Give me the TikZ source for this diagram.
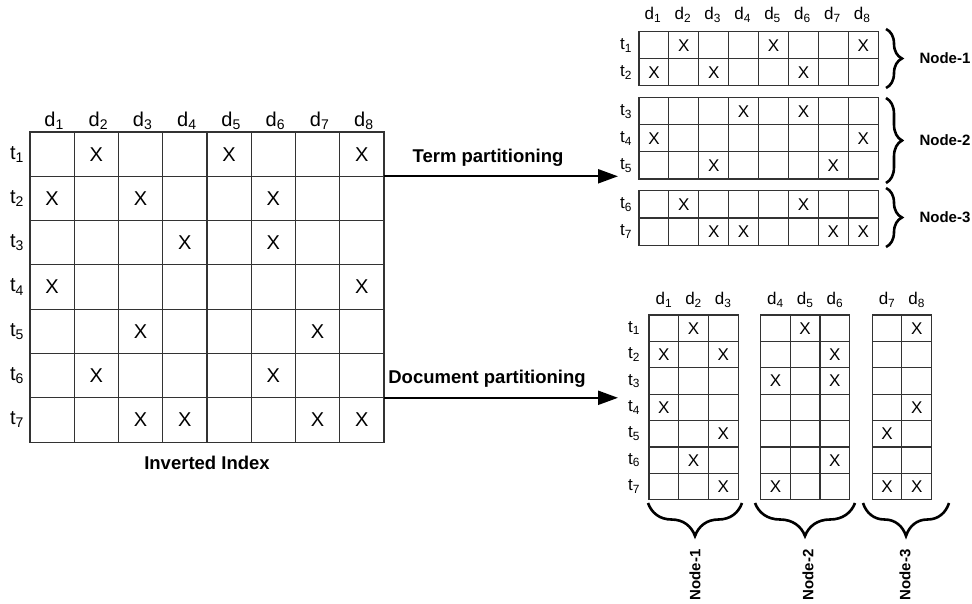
\documentclass[tikz,border=0pt]{standalone}
\usepackage{fontspec}
\setmainfont{Liberation Sans}
\usetikzlibrary{arrows.meta,decorations.pathreplacing}

% column/row pairs that hold a posting
\def\hits{2/1,5/1,8/1,1/2,3/2,6/2,4/3,6/3,1/4,8/4,3/5,7/5,2/6,6/6,3/7,4/7,7/7,8/7}

\tikzset{
  cell/.style={draw=black!80, line width=1.1pt},
  flow/.style={line width=2.2pt, -{Triangle[length=20pt,width=14pt]}},
  curly/.style={line width=2.6pt, decorate, decoration={brace,amplitude=#1}},
  bigtext/.style={font=\fontsize{20}{22}\selectfont},
  smalltext/.style={font=\fontsize{17}{19}\selectfont},
  title/.style={font=\bfseries\fontsize{18.5}{20}\selectfont},
  part/.style={font=\bfseries\fontsize{15}{17}\selectfont},
}

\begin{document}
\begin{tikzpicture}[x=1pt,y=-1pt]
  \useasboundingbox (0,0) rectangle (972,604);

  % inverted index
  \foreach \c in {1,...,8} \foreach \r in {1,...,7}
    \draw[cell] ({30+(\c-1)*44.25},{132+(\r-1)*44.3}) rectangle ++(44.25,44.3);
  \foreach \c in {1,...,8}
    \node[bigtext] (md-\c) at ({32+(\c-0.5)*44.25},121) {d\textsubscript{\c}};
  \foreach \r in {1,...,7}
    \node[bigtext] (mt-\r) at (17,{132+(\r-0.5)*44.3}) {t\textsubscript{\r}};
  \foreach \c/\r in \hits
    \node[bigtext] (mx-\c-\r) at ({30+(\c-0.5)*44.25},{132+(\r-0.5)*44.3}) {X};
  \node[title] (index) at (207,463) {Inverted Index};

  % term partitioning
  \foreach \c in {1,...,8} \foreach \r in {1,...,7}
    \draw[cell] ({639+(\c-1)*29.9},{31.7+(\r-1)*27.1+11.85*((\r>2)+(\r>5))}) rectangle ++(29.9,27.1);
  \foreach \c in {1,...,8}
    \node[smalltext] (td-\c) at ({638+(\c-0.5)*29.9},15) {d\textsubscript{\c}};
  \foreach \r in {1,...,7}
    \node[smalltext] (tt-\r) at (626,{31.7+(\r-0.5)*27.1+11.85*((\r>2)+(\r>5))}) {t\textsubscript{\r}};
  \foreach \c/\r in \hits
    \node[smalltext] (tx-\c-\r) at ({639+(\c-0.5)*29.9},{31.7+(\r-0.5)*27.1+11.85*((\r>2)+(\r>5))}) {X};
  \draw[curly=16pt] (886,29) -- (886,88);
  \draw[curly=16pt] (886,98) -- (886,183);
  \draw[curly=16pt] (886,188) -- (886,247);
  \node[part, anchor=west] (tn-1) at (916,58.5) {Node-1};
  \node[part, anchor=west] (tn-2) at (916,140.5) {Node-2};
  \node[part, anchor=west] (tn-3) at (916,217.5) {Node-3};

  % document partitioning
  \foreach \c in {1,...,8} \foreach \r in {1,...,7}
    \draw[cell] ({649+(\c-1)*29.7+22.5*((\c>3)+(\c>6))},{315+(\r-1)*26.4}) rectangle ++(29.7,26.4);
  \foreach \c in {1,...,8}
    \node[smalltext] (dd-\c) at ({649+(\c-0.5)*29.7+22.5*((\c>3)+(\c>6))},300) {d\textsubscript{\c}};
  \foreach \r in {1,...,7}
    \node[smalltext] (dt-\r) at (634,{315+(\r-0.5)*26.4}) {t\textsubscript{\r}};
  \foreach \c/\r in \hits
    \node[smalltext] (dx-\c-\r) at ({649+(\c-0.5)*29.7+22.5*((\c>3)+(\c>6))},{315+(\r-0.5)*26.4}) {X};
  \draw[curly=33pt] (742,503) -- (648,503);
  \draw[curly=33pt] (855,503) -- (755,503);
  \draw[curly=33pt] (949,503) -- (863,503);
  \node[part, rotate=90] (dn-1) at (695,575) {Node-1};
  \node[part, rotate=90] (dn-2) at (808,575) {Node-2};
  \node[part, rotate=90] (dn-3) at (905,575) {Node-3};

  % the two arrows
  \coordinate (termA) at (384,176.3);
  \coordinate (termB) at (618,176.3);
  \coordinate (docA) at (384,397.8);
  \coordinate (docB) at (618,397.8);
  \draw[flow] (termA) -- (termB);
  \draw[flow] (docA) -- (docB);
  \node[title] (termlbl) at (488,158) {Term partitioning};
  \node[title] (doclbl) at (487,379) {Document partitioning};

\end{tikzpicture}
\end{document}
